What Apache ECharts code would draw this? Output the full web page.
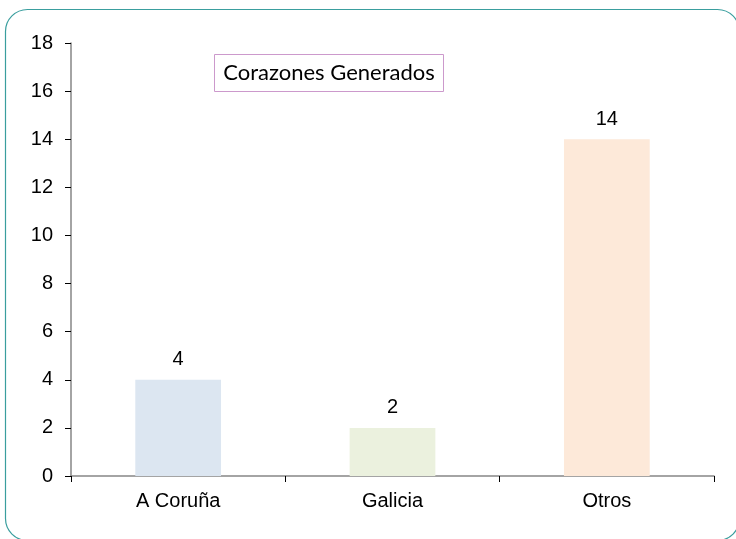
<!DOCTYPE html>
<html>
<head>
<meta charset="utf-8">
<script src="https://cdn.jsdelivr.net/npm/echarts@6/dist/echarts.min.js"></script>
<style>
  html, body { margin: 0; padding: 0; background: #fff; }
  #chart { width: 736px; height: 539px; }
</style>
</head>
<body>
<div id="chart"></div>
<script>
const categories = ['A Coruña', 'Galicia', 'Otros']
const values = [4, 2, 14]
const barColors = ['#dce6f1', '#ebf1de', '#fde9d9']
const titleText = 'Corazones Generados'

const chart = echarts.init(document.getElementById('chart'))

const option = {
  animation: false,
  backgroundColor: '#fff',
  grid: { left: 71, right: 22, top: 43, bottom: 63 },
  graphic: [
    {
      type: 'rect',
      shape: { x: 5.5, y: 9.5, width: 734, height: 531, r: 22 },
      style: { fill: 'none', stroke: '#3a9e9e', lineWidth: 1.2 },
      z: -1
    },
    {
      type: 'rect',
      shape: { x: 214.5, y: 54.5, width: 229, height: 37 },
      style: { fill: '#fff', stroke: '#cc99cc', lineWidth: 1 }
    },
    {
      type: 'text',
      x: 329, y: 73,
      style: {
        text: titleText,
        font: '22px Lato',
        fill: '#000',
        align: 'center',
        verticalAlign: 'middle'
      }
    }
  ],
  xAxis: {
    type: 'category',
    data: categories,
    axisLine: { lineStyle: { color: '#868686', width: 1.5 } },
    axisTick: { show: true, length: 6, lineStyle: { color: '#000' } },
    axisLabel: { color: '#000', fontSize: 20, fontFamily: 'Liberation Sans', margin: 15 }
  },
  yAxis: {
    type: 'value',
    min: 0,
    max: 18,
    interval: 2,
    axisLine: { show: true, lineStyle: { color: '#868686', width: 1.5 } },
    axisTick: { show: true, length: 6, lineStyle: { color: '#000' } },
    splitLine: { show: false },
    axisLabel: { color: '#000', fontSize: 20, fontFamily: 'Liberation Sans', margin: 18 }
  },
  series: [
    {
      type: 'bar',
      barWidth: '40%',
      data: values.map((v, i) => ({ value: v, itemStyle: { color: barColors[i] } })),
      label: {
        show: true,
        position: 'top',
        distance: 10,
        color: '#000',
        fontSize: 20,
        fontFamily: 'Liberation Sans'
      }
    }
  ]
}

chart.setOption(option)
</script>
</body>
</html>
